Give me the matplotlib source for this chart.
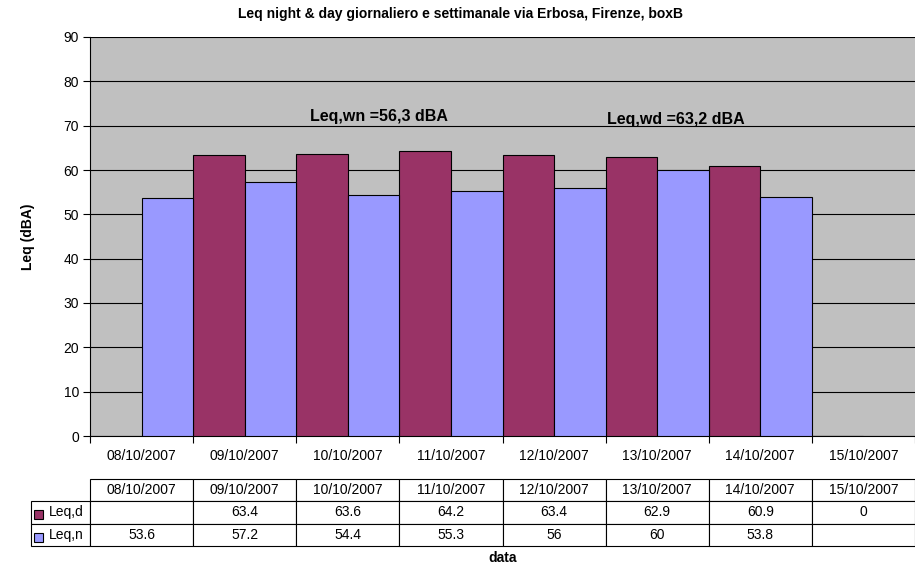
import numpy as np
import matplotlib.pyplot as plt
from matplotlib.patches import Rectangle
from matplotlib.table import Table

plt.rcParams['font.family'] = ['Liberation Sans', 'DejaVu Sans']

# data
dates = ['08/10/2007', '09/10/2007', '10/10/2007', '11/10/2007',
         '12/10/2007', '13/10/2007', '14/10/2007', '15/10/2007']
leq_d = [np.nan, 63.4, 63.6, 64.2, 63.4, 62.9, 60.9, 0]
leq_n = [53.6, 57.2, 54.4, 55.3, 56, 60, 53.8, np.nan]
series_names = ['Leq,d', 'Leq,n']
yticks = np.arange(0, 100, 10)

col_d = '#993366'
col_n = '#9999FF'

fig = plt.figure(figsize=(9.15, 5.66), dpi=100)
ax = fig.add_axes([90 / 915, 1 - 436 / 566, 825 / 915, 399 / 566])
ax.set_facecolor('#C0C0C0')

x = np.arange(len(dates))
ax.bar(x - 0.25, leq_d, width=0.5, color=col_d, edgecolor='black', linewidth=0.8, zorder=3)
ax.bar(x + 0.25, leq_n, width=0.5, color=col_n, edgecolor='black', linewidth=0.8, zorder=3)

ax.set_xlim(-0.5, len(dates) - 0.5)
ax.set_ylim(0, 90)
ax.set_yticks(yticks)
ax.grid(axis='y', color='black', linewidth=0.8, zorder=1)
ax.set_axisbelow(True)
ax.tick_params(axis='y', labelsize=10, length=5, width=0.8, pad=3)

# boundary ticks without labels, centered labels without ticks
ax.set_xticks(np.arange(-0.5, len(dates)), labels=[])
ax.set_xticks(x, labels=dates, minor=True)
ax.tick_params(axis='x', which='major', length=5, width=0.8)
ax.tick_params(axis='x', which='minor', length=0, labelsize=10, pad=9)

for s in ['top', 'right']:
    ax.spines[s].set_visible(False)
ax.spines['left'].set_linewidth(0.8)
ax.spines['bottom'].set_linewidth(0.8)

ax.set_title('Leq night & day giornaliero e settimanale via Erbosa, Firenze, boxB',
             fontsize=10, fontweight='bold', pad=14, x=(461 - 90) / 825)
ax.set_ylabel('Leq (dBA)', fontsize=10, fontweight='bold', labelpad=20)

ax.text(1.63, 72, 'Leq,wn =56,3 dBA', fontsize=11.5, fontweight='bold', va='center', ha='left')
ax.text(4.51, 71.4, 'Leq,wd =63,2 dBA', fontsize=11.5, fontweight='bold', va='center', ha='left')

# data table under the chart
W = 825
lab_w = 59 / W
col_w = 1 / len(dates)
row_h = 22.4 / 399
tab = Table(ax, bbox=[0, (436 - 546) / 399, 1, 3 * row_h])
for j, d in enumerate(dates):
    tab.add_cell(0, j, width=col_w, height=row_h, text=d, loc='center')
for i, vals in enumerate([leq_d, leq_n]):
    tab.add_cell(i + 1, -1, width=lab_w, height=row_h, text=series_names[i], loc='right')
    for j, v in enumerate(vals):
        txt = '' if np.isnan(v) else f'{v:g}'
        tab.add_cell(i + 1, j, width=col_w, height=row_h, text=txt, loc='center')
tab.auto_set_font_size(False)
tab.set_fontsize(10)
for cell in tab.get_celld().values():
    cell.set_linewidth(0.8)
    cell.set_edgecolor('black')
    cell.set_facecolor('white')
ax.add_table(tab)

# legend keys in the row labels
for i, col in enumerate([col_d, col_n]):
    y_top = 510 + i * 23
    ax.add_patch(Rectangle(((34 - 90) / W, (436 - y_top - 9) / 399), 9 / W, 9 / 399,
                           transform=ax.transAxes, facecolor=col, edgecolor='black',
                           linewidth=0.8, clip_on=False, zorder=5))

ax.text(0.5, (436 - 558) / 399, 'data', transform=ax.transAxes, fontsize=10,
        fontweight='bold', ha='center', va='center')

fig.savefig('out.png', dpi=100)
